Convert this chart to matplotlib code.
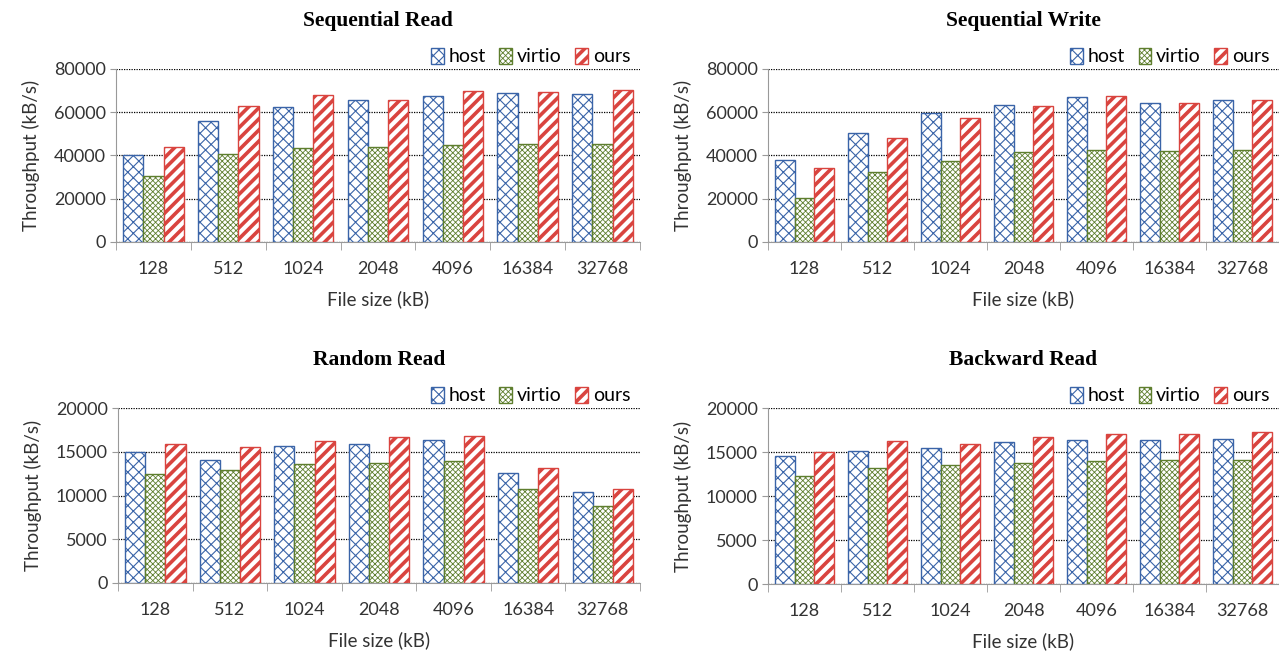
import matplotlib.pyplot as plt
import numpy as np
from matplotlib.patches import Patch

# file sizes on the x axis
sizes = ['128', '512', '1024', '2048', '4096', '16384', '32768']
series = ['host', 'virtio', 'ours']

# throughput in kB/s
seq_read_host = [40200, 55800, 62600, 65500, 67700, 68800, 68300]
seq_read_virtio = [30500, 40900, 43400, 43700, 44800, 45500, 45500]
seq_read_ours = [44000, 62800, 67800, 65800, 70000, 69400, 70300]

seq_write_host = [37700, 50200, 59800, 63500, 67200, 64500, 65800]
seq_write_virtio = [20500, 32500, 37500, 41400, 42600, 42300, 42600]
seq_write_ours = [34000, 48000, 57500, 62800, 67400, 64500, 65800]

rand_read_host = [15000, 14050, 15700, 15900, 16400, 12550, 10400]
rand_read_virtio = [12500, 12950, 13600, 13700, 13900, 10750, 8800]
rand_read_ours = [15850, 15550, 16200, 16700, 16800, 13200, 10750]

back_read_host = [14600, 15150, 15450, 16100, 16400, 16400, 16500]
back_read_virtio = [12300, 13150, 13500, 13750, 13950, 14100, 14100]
back_read_ours = [15000, 16200, 15900, 16700, 17000, 17100, 17300]

edge_colors = ['#3A64A8', '#5E7E2E', '#D9443F']
hatches = ['xxx', 'xxxxxx', '///']
hatch_lw = [0.8, 0.6, 2.6]

plt.rcParams['font.family'] = ['Lato', 'DejaVu Sans']

fig = plt.figure(figsize=(12.79, 6.54), dpi=100)

panels = [
    ('Sequential Read', [seq_read_host, seq_read_virtio, seq_read_ours], 80000, 20000,
     [0.0907, 0.630, 0.4097, 0.2645]),
    ('Sequential Write', [seq_write_host, seq_write_virtio, seq_write_ours], 80000, 20000,
     [0.6005, 0.630, 0.3995, 0.2645]),
    ('Random Read', [rand_read_host, rand_read_virtio, rand_read_ours], 20000, 5000,
     [0.0923, 0.1086, 0.4081, 0.2675]),
    ('Backward Read', [back_read_host, back_read_virtio, back_read_ours], 20000, 5000,
     [0.6005, 0.1070, 0.3995, 0.2691]),
]

x = np.arange(len(sizes))
w = 0.27


def thick_hatch(p, i):
    if hasattr(p, 'set_hatch_linewidth'):
        p.set_hatch_linewidth(hatch_lw[i])


for title, data, ymax, ystep, pos in panels:
    ax = fig.add_axes(pos)
    for i, vals in enumerate(data):
        bars = ax.bar(x + (i - 1) * w, vals, w, facecolor='white',
                      edgecolor=edge_colors[i], hatch=hatches[i], linewidth=1.0,
                      zorder=3)
        for b in bars:
            thick_hatch(b, i)
    ax.set_xlim(-0.5, len(sizes) - 0.5)
    ax.set_ylim(0, ymax)
    ax.set_yticks(np.arange(0, ymax + 1, ystep))
    ax.yaxis.grid(True, linestyle=(0, (1, 1)), color='black', linewidth=0.9, zorder=0)
    for s in ['top', 'right']:
        ax.spines[s].set_visible(False)
    ax.spines['left'].set_color('#999999')
    ax.spines['bottom'].set_color('#999999')
    ax.set_xticks(x)
    ax.set_xticklabels(sizes)
    ax.set_xticks(np.arange(len(sizes) + 1) - 0.5, minor=True)
    ax.tick_params(axis='x', which='major', length=0, pad=14, labelsize=13, colors='#333333')
    ax.tick_params(axis='x', which='minor', length=6, color='#999999')
    ax.tick_params(axis='y', length=4, color='#999999', labelsize=13, labelcolor='#333333')
    ax.set_xlabel('File size (kB)', fontsize=13.5, color='#333333', labelpad=9)
    ax.set_ylabel('Throughput (kB/s)', fontsize=13.5, color='#333333', labelpad=10)
    ax.set_title(title, fontsize=15.5, fontweight='bold', family='Liberation Serif', pad=31)

    handles = [Patch(facecolor='white', edgecolor=edge_colors[i], hatch=hatches[i],
                     label=series[i]) for i in range(3)]
    leg = ax.legend(handles=handles, loc='lower right', bbox_to_anchor=(0.985, 1.01), ncol=3,
                    frameon=False, fontsize=14, handlelength=0.65, handleheight=0.9,
                    handletextpad=0.25, columnspacing=0.7, borderaxespad=0.0, borderpad=0.1)
    for i, p in enumerate(leg.get_patches()):
        thick_hatch(p, i)

fig.savefig('out.png', dpi=100)
